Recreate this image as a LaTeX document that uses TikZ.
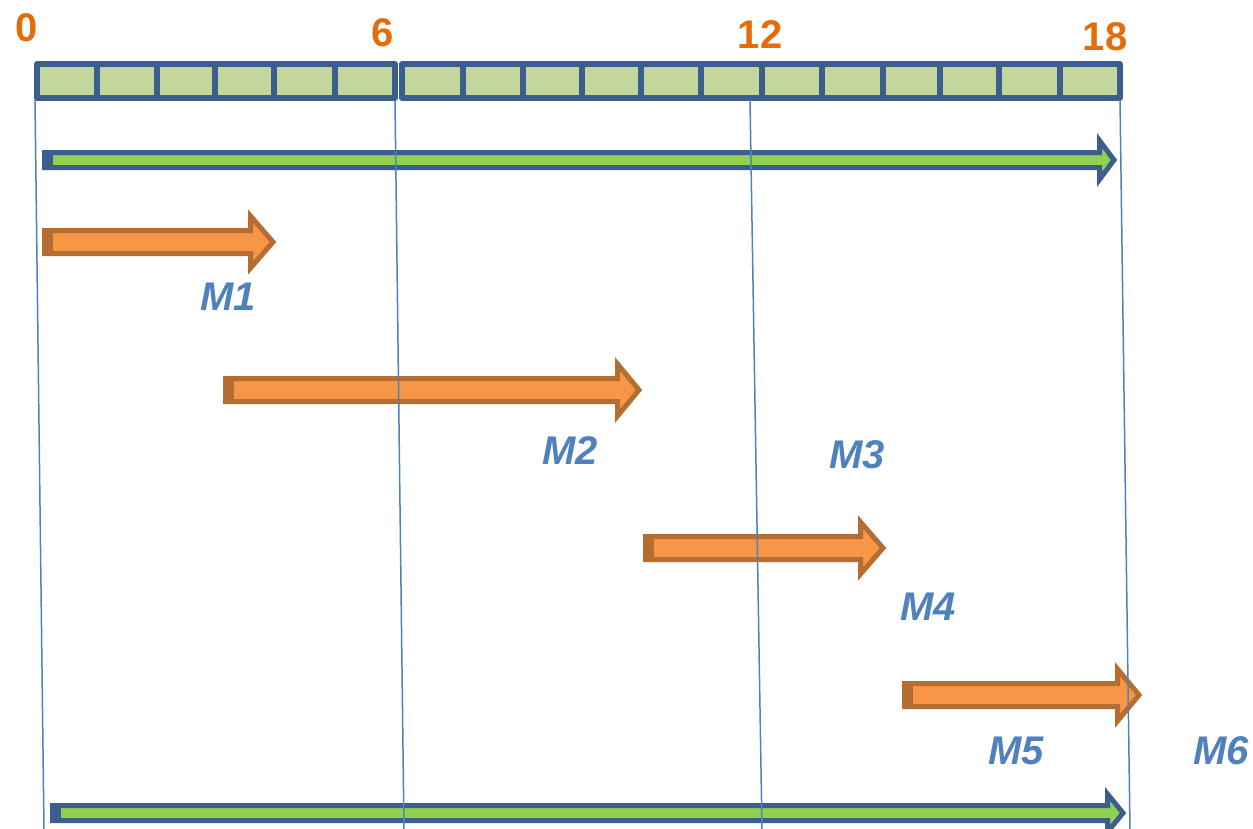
\documentclass[tikz,border=0pt]{standalone}
\usepackage{fontspec}
\setmainfont{Liberation Sans}
\definecolor{dkblue}{HTML}{3A5F8F}
\definecolor{cellgreen}{HTML}{C3D69B}
\definecolor{brightgreen}{HTML}{92D050}
\definecolor{orfill}{HTML}{F79646}
\definecolor{ordraw}{HTML}{B66D31}
\definecolor{numorange}{HTML}{E46C0A}
\definecolor{lblue}{HTML}{4F81BD}
\tikzset{
  cell/.style={draw=dkblue, fill=cellgreen, line width=5.5pt, line join=round},
  greenarrow/.style={draw=dkblue, fill=brightgreen, line width=5pt, miter limit=10},
  orangearrow/.style={draw=ordraw, fill=orfill, line width=5pt, miter limit=10},
  numlbl/.style={text=numorange, font=\fontsize{40}{44}\selectfont\bfseries, inner sep=0pt},
  mlbl/.style={text=lblue, font=\fontsize{40}{44}\selectfont\bfseries\itshape, inner sep=0pt},
  guide/.style={draw=lblue, line width=1.5pt}
}
% #1 style, #2 start x, #3 head base x, #4 tip x, #5 centre y, #6 shaft half, #7 head half, #8 cap colour
\newcommand{\blockarr}[8]{%
  \draw[#1] (#2,#5-#6) -- (#3,#5-#6) -- (#3,#5-#7) -- (#4,#5) -- (#3,#5+#7) -- (#3,#5+#6) -- (#2,#5+#6) -- cycle;
  \fill[#8] (#2-2.5,#5-#6-2.5) rectangle (#2+8,#5+#6+2.5);}
\begin{document}
\begin{tikzpicture}[x=1pt,y=-1pt]
\useasboundingbox (0,0) rectangle (1253,828);
\clip (0,0) rectangle (1253,828);
% cells
\foreach \a/\b in {37/97,97/157,157/215,215/274,274/335,335/395,
                   402/463,463/523,523/582,582/641,641/701,701/762,762/822,822/883,883/940,940/999,999/1060,1060/1120}
  \draw[cell] (\a,64) rectangle (\b,98);
% numbers
\node[numlbl] (n0) at (27,28) {0};
\node[numlbl] (n6) at (383,33) {6};
\node[numlbl] (n12) at (760,35) {12};
\node[numlbl] (n18) at (1105,37) {18};
% green arrows
\blockarr{greenarrow}{44.5}{1099.5}{1114}{160}{7.5}{19.5}{dkblue}
\blockarr{greenarrow}{52.5}{1107.5}{1123}{813}{7.5}{19}{dkblue}
% orange arrows
\blockarr{orangearrow}{44.5}{250.5}{273}{242}{11.5}{26}{ordraw}
\blockarr{orangearrow}{225.5}{617.5}{639}{390}{11.5}{26}{ordraw}
\blockarr{orangearrow}{645.5}{860.5}{883}{548}{11.5}{26}{ordraw}
\blockarr{orangearrow}{904.5}{1117.5}{1139}{695}{11.5}{26}{ordraw}
% labels
\node[mlbl] (m1) at (228,297) {M1};
\node[mlbl] (m2) at (570,451) {M2};
\node[mlbl] (m3) at (857,455) {M3};
\node[mlbl] (m4) at (928,607) {M4};
\node[mlbl] (m5) at (1016,751) {M5};
\node[mlbl] (m6) at (1221,751) {M6};
% guide lines
\coordinate (t1) at (35,100);   \coordinate (b1) at (44,830);
\coordinate (t2) at (395,100);  \coordinate (b2) at (404,830);
\coordinate (t3) at (750,100);  \coordinate (b3) at (762,830);
\coordinate (t4) at (1120,100); \coordinate (b4) at (1130,830);
\draw[guide] (t1) -- (b1);
\draw[guide] (t2) -- (b2);
\draw[guide] (t3) -- (b3);
\draw[guide] (t4) -- (b4);
\end{tikzpicture}
\end{document}
